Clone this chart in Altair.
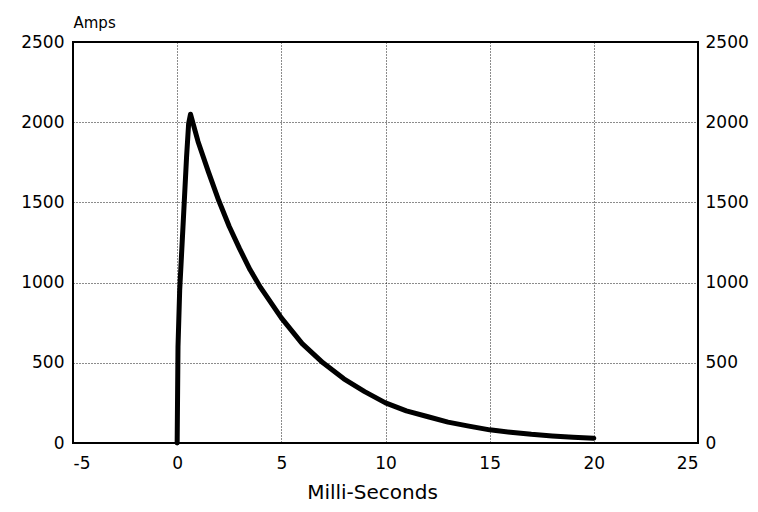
import altair as alt
import pandas as pd

# Current pulse (Amps) vs time (milli-seconds)
time_ms = [0.0, 0.04, 0.12, 0.3, 0.45, 0.55, 0.64, 1.0, 1.5, 2.0, 2.5, 3.0, 3.5, 4.0,
           5.0, 6.0, 7.0, 8.0, 9.0, 10.0, 11.0, 12.0, 13.0, 14.0, 15.0, 16.0,
           17.0, 18.0, 19.0, 20.0]
amps = [0, 600, 950, 1400, 1780, 1990, 2050, 1880, 1690, 1510, 1350, 1210, 1080, 970,
        780, 620, 500, 400, 320, 250, 200, 165, 130, 105, 82, 67,
        54, 44, 36, 30]

x_ticks = [-5, 0, 5, 10, 15, 20, 25]
y_ticks = [0, 500, 1000, 1500, 2000, 2500]

df = pd.DataFrame({"t": time_ms, "a": amps})

FONT = "DejaVu Sans"
x_scale = alt.Scale(domain=[-5, 25], nice=False, zero=False)
y_scale = alt.Scale(domain=[0, 2500], nice=False)

grid_style = dict(grid=True, gridColor="black", gridDash=[1, 2], gridWidth=1,
                  gridOpacity=0.9, ticks=False, domain=False,
                  labelFont=FONT, labelFontSize=17, labelColor="black",
                  labelExpr="datum.value + ''")

left = alt.Chart(df).mark_line(color="black", strokeWidth=5, strokeJoin="round",
                               strokeCap="round").encode(
    x=alt.X("t:Q", scale=x_scale,
            axis=alt.Axis(values=x_ticks, title="Milli-Seconds", titleFont=FONT,
                          titleFontSize=20, titleFontWeight="normal", titleColor="black",
                          titleX=299, titleAlign="center",
                          titlePadding=11, labelPadding=12, **grid_style)),
    y=alt.Y("a:Q", scale=y_scale,
            axis=alt.Axis(values=y_ticks, title="Amps", titleAngle=0, titleAlign="left",
                          titleBaseline="bottom", titleX=0, titleY=-12, titleFont=FONT,
                          titleFontSize=15, titleFontWeight="normal", titleColor="black",
                          labelPadding=9, **grid_style)),
)

right = alt.Chart(df).mark_line(opacity=0).encode(
    x=alt.X("t:Q", scale=x_scale),
    y=alt.Y("a:Q", scale=y_scale,
            axis=alt.Axis(orient="right", values=y_ticks, title=None, grid=False,
                          ticks=False, domain=False, labelFont=FONT, labelFontSize=17,
                          labelColor="black", labelPadding=7,
                          labelExpr="datum.value + ''")),
)

chart = alt.layer(left, right).resolve_scale(y="independent").properties(
    width=625, height=401,
    autosize=alt.AutoSizeParams(type="none"),
    padding={"left": 65, "top": 34, "right": 52, "bottom": 64},
    background="white",
).configure_view(stroke="black", strokeWidth=2)

chart.save("out.html", embed_options={"renderer": "svg", "actions": False})
